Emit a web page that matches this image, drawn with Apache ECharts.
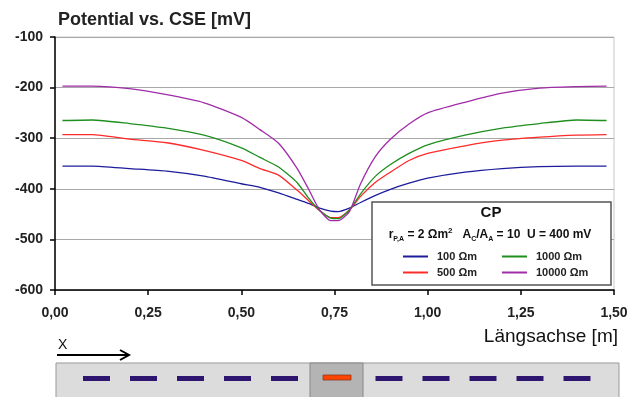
<!DOCTYPE html>
<html>
<head>
<meta charset="utf-8">
<script src="https://cdn.jsdelivr.net/npm/echarts@6/dist/echarts.min.js"></script>
<style>
    html, body { margin: 0; padding: 0; background: #fff; }
    #main { width: 631px; height: 397px; }
</style>
</head>
<body>
<div id="main"></div>
<script>
// Längsachse positions [m]
var xPos = [0.02, 0.1, 0.2, 0.3, 0.4, 0.5, 0.55, 0.6, 0.65, 0.68, 0.71, 0.74, 0.76,
            0.79, 0.82, 0.86, 0.9, 0.95, 1.0, 1.1, 1.2, 1.3, 1.4, 1.48];

// potential vs. CSE [mV] per soil resistivity
var pot100 = [-355, -355, -360, -365, -375, -390, -397, -408, -421, -429, -438, -444, -445,
              -438, -427, -413, -401, -389, -379, -367, -360, -356, -355, -355];
var pot500 = [-293, -293, -302, -309, -324, -344, -360, -373, -403, -423, -443, -457, -457,
              -442, -415, -387, -367, -344, -330, -315, -304, -298, -294, -293];
var pot1000 = [-265, -264, -271, -280, -294, -319, -338, -357, -388, -418, -443, -458, -459,
               -442, -410, -375, -352, -330, -313, -294, -280, -271, -264, -265];
var pot10000 = [-197, -197, -202, -214, -230, -259, -283, -310, -360, -400, -442, -463, -463,
                -445, -390, -336, -302, -272, -250, -229, -211, -201, -198, -197];

var seriesNames = ['100 Ωm', '500 Ωm', '1000 Ωm', '10000 Ωm'];
var seriesColors = ['#1c1c9c', '#ff2a2a', '#1f8f1f', '#a02ca8'];
var seriesValues = [pot100, pot500, pot1000, pot10000];

var chart = echarts.init(document.getElementById('main'));

function pairs(vals) {
    return xPos.map(function (x, i) { return [x, vals[i]]; });
}

var series = seriesNames.map(function (name, i) {
    return {
        name: name,
        type: 'line',
        data: pairs(seriesValues[i]),
        showSymbol: false,
        smooth: 0.2,
        z: 3,
        lineStyle: { color: seriesColors[i], width: 1.3 },
        itemStyle: { color: seriesColors[i] }
    };
});

// electrode schematic below the axis
var dashes = [];
for (var i = 0; i < 5; i++) {
    [96.5 + 47 * i, 389 + 47 * i].forEach(function (cx) {
        dashes.push({
            type: 'rect', silent: true, z: 6,
            shape: { x: cx - 13.5, y: 376, width: 27, height: 5 },
            style: { fill: '#2e1670' }
        });
    });
}

function legendAt(left, names) {
    return {
        orient: 'vertical',
        left: left, top: 246,
        data: names,
        itemWidth: 25,
        itemHeight: 2,
        itemGap: 5,
        icon: 'rect',
        z: 20,
        selectedMode: false,
        textStyle: {
            fontFamily: 'Liberation Sans, Arial', fontSize: 11, fontWeight: 'bold', color: '#222',
            padding: [0, 0, 0, 4]
        }
    };
}

chart.setOption({
    backgroundColor: '#fff',
    animation: false,
    grid: {
        left: 55, top: 37, right: 17, bottom: 107,
        show: true, borderColor: '#c8c8c8', borderWidth: 1,
        containLabel: false, outerBoundsMode: 'none'
    },
    legend: [
        legendAt(398, ['100 Ωm', '500 Ωm']),
        legendAt(497, ['1000 Ωm', '10000 Ωm'])
    ],
    xAxis: {
        type: 'value',
        min: 0, max: 1.5, interval: 0.25,
        axisLine: { onZero: false, lineStyle: { color: '#000', width: 1.5 } },
        axisTick: { show: true, length: 5, lineStyle: { color: '#000', width: 1.5 } },
        splitLine: { show: false },
        axisLabel: {
            margin: 16,
            fontFamily: 'Liberation Sans, Arial', fontSize: 14, fontWeight: 'bold', color: '#222',
            formatter: function (v) { return v.toFixed(2).replace('.', ','); }
        }
    },
    yAxis: {
        type: 'value',
        min: -600, max: -100, interval: 100,
        axisLine: { show: true, lineStyle: { color: '#000', width: 1.5 } },
        axisTick: { show: true, length: 5, lineStyle: { color: '#000', width: 1.5 } },
        splitLine: { lineStyle: { color: '#a8a8a8', width: 1.2 } },
        axisLabel: {
            margin: 12,
            fontFamily: 'Liberation Sans, Arial', fontSize: 14, fontWeight: 'bold', color: '#222'
        }
    },
    series: series,
    graphic: [
        {
            type: 'text', left: 58, top: 11, z: 10,
            style: { text: 'Potential vs. CSE [mV]', font: 'bold 18px "Liberation Sans", Arial', fill: '#222' }
        },
        {
            type: 'text', z: 10,
            x: 618, y: 337,
            style: { text: 'Längsachse [m]', font: '19px "Liberation Sans", Arial', fill: '#111', align: 'right', verticalAlign: 'middle' }
        },
        // legend box
        {
            type: 'rect', z: 10,
            shape: { x: 372, y: 202, width: 239, height: 83 },
            style: { fill: '#fff', stroke: '#555', lineWidth: 1.5 }
        },
        {
            type: 'text', z: 11, x: 491, y: 213,
            style: { text: 'CP', font: 'bold 15px "Liberation Sans", Arial', fill: '#111', align: 'center', verticalAlign: 'middle' }
        },
        {
            type: 'text', z: 11, x: 490, y: 235,
            style: {
                text: '{m|r}{s|P,A}{m| = 2 Ωm}{p|2}{m|   A}{s|C}{m|/A}{s|A}{m| = 10  U = 400 mV}',
                align: 'center', verticalAlign: 'middle',
                rich: {
                    m: { font: 'bold 12px "Liberation Sans", Arial', fill: '#111', lineHeight: 16 },
                    s: { font: 'bold 7px "Liberation Sans", Arial', fill: '#111', lineHeight: 9, verticalAlign: 'bottom' },
                    p: { font: 'bold 8px "Liberation Sans", Arial', fill: '#111', lineHeight: 10, verticalAlign: 'top' }
                }
            }
        },
        // schematic: direction arrow
        {
            type: 'text', z: 10, x: 58, y: 345,
            style: { text: 'X', font: '14px "Liberation Sans", Arial', fill: '#111', verticalAlign: 'middle' }
        },
        {
            type: 'line', z: 10,
            shape: { x1: 57, y1: 355, x2: 128, y2: 355 },
            style: { stroke: '#000', lineWidth: 2 }
        },
        {
            type: 'polyline', z: 10,
            shape: { points: [[120, 350], [129, 355], [120, 360]] },
            style: { stroke: '#000', lineWidth: 2, fill: null }
        },
        // schematic: pipe with anodes
        {
            type: 'rect', z: 4,
            shape: { x: 56, y: 363, width: 563, height: 40 },
            style: { fill: '#dcdcdc', stroke: '#999', lineWidth: 1 }
        },
        {
            type: 'rect', z: 5,
            shape: { x: 310, y: 363, width: 53, height: 40 },
            style: { fill: '#b4b4b4', stroke: '#888', lineWidth: 1 }
        },
        {
            type: 'rect', z: 6,
            shape: { x: 323, y: 375, width: 28, height: 5 },
            style: { fill: '#ff4400', stroke: '#8a3a20', lineWidth: 0.8 }
        }
    ].concat(dashes)
});
</script>
</body>
</html>
